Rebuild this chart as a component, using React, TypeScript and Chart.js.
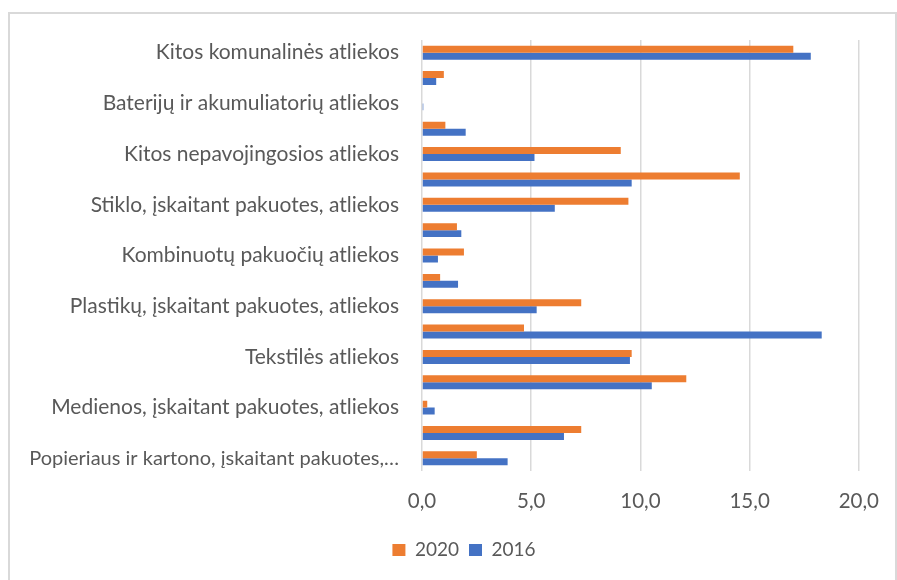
import React, { useEffect, useRef } from "react";
import { Chart, registerables } from "chart.js";

Chart.register(...registerables);

// Categories listed top to bottom as shown; unlabeled rows have empty names
const categories: string[] = [
  "Kitos komunalinės atliekos",
  "",
  "Baterijų ir akumuliatorių atliekos",
  "",
  "Kitos nepavojingosios atliekos",
  "",
  "Stiklo, įskaitant pakuotes, atliekos",
  "",
  "Kombinuotų pakuočių atliekos",
  "",
  "Plastikų, įskaitant pakuotes, atliekos",
  "",
  "Tekstilės atliekos",
  "",
  "Medienos, įskaitant pakuotes, atliekos",
  "",
  "Popieriaus ir kartono, įskaitant pakuotes, atliekos",
];

const values2020: number[] = [
  17.0, 1.0, 0.0, 1.07, 9.1, 14.55, 9.45, 1.6, 1.92, 0.83, 7.29, 4.67, 9.6, 12.1, 0.24, 7.29, 2.51,
];

const values2016: number[] = [
  17.8, 0.65, 0.06, 2.0, 5.15, 9.6, 6.08, 1.8, 0.73, 1.65, 5.25, 18.3, 9.52, 10.52, 0.58, 6.5, 3.92,
];

const xTicks: number[] = [0, 5, 10, 15, 20];

const FONT = "Lato, 'Open Sans', sans-serif";
const TEXT = "#595959";

const legendShift = {
  id: "legendShift",
  afterLayout(chart: any) {
    const l = chart.legend;
    if (l) {
      l.left = 65;
    }
  },
};

export default function App() {
  const ref = useRef<HTMLCanvasElement | null>(null);

  useEffect(() => {
    document.body.style.margin = "0";
    const canvas = ref.current;
    if (!canvas) return;
    const chart = new Chart(canvas, {
      type: "bar",
      data: {
        labels: categories,
        datasets: [
          {
            label: "2020",
            data: values2020,
            backgroundColor: "#ED7D31",
            categoryPercentage: 0.55,
            barPercentage: 1,
          },
          {
            label: "2016",
            data: values2016,
            backgroundColor: "#4472C4",
            categoryPercentage: 0.55,
            barPercentage: 1,
          },
        ],
      },
      plugins: [legendShift],
      options: {
        indexAxis: "y",
        responsive: false,
        maintainAspectRatio: false,
        animation: false,
        layout: { padding: { left: 0, right: 34, top: 40, bottom: 10.5 } },
        plugins: {
          legend: {
            position: "bottom",
            labels: {
              boxWidth: 13,
              boxHeight: 12,
              padding: 10,
              color: TEXT,
              font: { family: FONT, size: 19 },
            },
          },
          tooltip: { enabled: false },
        },
        scales: {
          x: {
            min: 0,
            max: 20,
            afterBuildTicks: (s: any) => {
              s.ticks = xTicks.map((v) => ({ value: v }));
            },
            afterFit: (s: any) => {
              s.height = 59.5;
            },
            grid: { color: "#d9d9d9", lineWidth: 1.5, drawTicks: false },
            border: { display: false },
            ticks: {
              color: TEXT,
              padding: 18,
              font: { family: FONT, size: 20.5 },
              callback: (v: any) => Number(v).toFixed(1).replace(".", ","),
            },
          },
          y: {
            afterFit: (s: any) => {
              s.width = 422;
            },
            grid: { display: false, drawTicks: false },
            border: { display: false },
            ticks: {
              autoSkip: false,
              color: TEXT,
              padding: 23,
              font: (ctx: any) => ({ family: FONT, size: ctx.index === categories.length - 1 ? 20 : 21 }),
              callback: function (this: any, _v: any, i: number) {
                const l = categories[i];
                return l.length > 45 ? l.slice(0, 42) + "…" : l;
              },
            },
          },
        },
      },
    });
    return () => chart.destroy();
  }, []);

  return (
    <div style={{ position: "fixed", left: 0, top: 0, width: 897, height: 580, overflow: "hidden", background: "#fff" }}>
      <div
        style={{
          position: "absolute",
          left: 8,
          top: 12,
          width: 889,
          height: 640,
          boxSizing: "border-box",
          border: "2px solid #d9d9d9",
        }}
      />
      <canvas ref={ref} width={897} height={580} style={{ position: "absolute", left: 0, top: 0 }} />
    </div>
  );
}
